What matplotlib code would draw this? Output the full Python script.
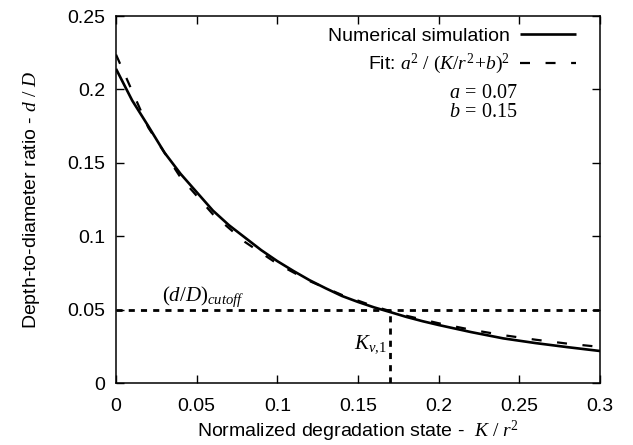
import numpy as np
import matplotlib
matplotlib.use('Agg')
import matplotlib.pyplot as plt

# Данные
K_sim = [0.00, 0.01, 0.02, 0.03, 0.04, 0.05, 0.06, 0.07, 0.08, 0.09, 0.10,
         0.11, 0.12, 0.13, 0.14, 0.15, 0.16, 0.17, 0.18, 0.19, 0.20,
         0.22, 0.24, 0.26, 0.28, 0.30]
dD_sim = [0.2140, 0.1925, 0.1750, 0.1570, 0.1425, 0.1300, 0.1175, 0.1075,
          0.0990, 0.0905, 0.0830, 0.0763, 0.0700, 0.0645, 0.0593, 0.0552,
          0.0515, 0.0483, 0.0450, 0.0421, 0.0395, 0.0347, 0.0304, 0.0272,
          0.0244, 0.0218]

K_fit = [0.00, 0.02, 0.04, 0.06, 0.08, 0.10, 0.12, 0.14, 0.16, 0.18,
         0.20, 0.22, 0.24, 0.26, 0.28, 0.30]
dD_fit = [0.2237, 0.1740, 0.1400, 0.1150, 0.0960, 0.0812, 0.0694, 0.0600,
          0.0522, 0.0458, 0.0407, 0.0363, 0.0326, 0.0295, 0.0268, 0.0246]

cutoff_dD = 0.05
K_v1 = 0.17

x_ticks = [0, 0.05, 0.1, 0.15, 0.2, 0.25, 0.3]
x_ticklabels = ['0', '0.05', '0.1', '0.15', '0.2', '0.25', '0.3']
y_ticks = [0, 0.05, 0.1, 0.15, 0.2, 0.25]
y_ticklabels = ['0', '0.05', '0.1', '0.15', '0.2', '0.25']

plt.rcParams['font.family'] = ['Liberation Sans', 'DejaVu Sans']
plt.rcParams['mathtext.fontset'] = 'custom'
plt.rcParams['mathtext.rm'] = 'Liberation Serif'
plt.rcParams['mathtext.it'] = 'Liberation Serif:italic'
plt.rcParams['mathtext.bf'] = 'Liberation Serif:bold'

fig = plt.figure(figsize=(6.33, 4.45), dpi=100)
ax = fig.add_axes([0.1833, 0.1393, 0.7647, 0.8247])

ax.plot(K_sim, dD_sim, color='black', lw=1.9, solid_capstyle='butt',
        label='Numerical simulation')
ax.plot(K_fit, dD_fit, color='black', lw=1.6, dashes=(4.5, 7),
        label=r'Fit: $a^2\ /\ (K/r^2\!+\!b)^2$')

# линии отсечки
ax.plot([0, 0.3], [cutoff_dD, cutoff_dD], color='black', lw=2.0,
        dashes=(2.2, 2.2))
ax.plot([K_v1, K_v1], [0, cutoff_dD], color='black', lw=2.0,
        dashes=(2.2, 2.2))

ax.text(0.054, 0.0557, r'$(d/D)_{cutoff}$', fontsize=15, ha='center',
        va='baseline')
ax.text(0.168, 0.0238, r'$K_{v{,}1}$', fontsize=15, ha='right',
        va='baseline')
ax.text(0.249, 0.198, r'$a\,=\,0.07$', fontsize=14.5, ha='right',
        va='center')
ax.text(0.249, 0.185, r'$b\,=\,0.15$', fontsize=14.5, ha='right',
        va='center')

leg = ax.legend(loc='upper right', frameon=False, markerfirst=False,
                fontsize=14, handlelength=2.9, handletextpad=0.5,
                labelspacing=0.35, borderaxespad=0.2,
                bbox_to_anchor=(0.975, 1.0))

ax.set_xlim(0, 0.3)
ax.set_ylim(0, 0.25)
ax.set_xticks(x_ticks)
ax.set_xticklabels(x_ticklabels)
ax.set_yticks(y_ticks)
ax.set_yticklabels(y_ticklabels)
ax.tick_params(direction='in', length=6, width=1, top=True, right=True,
               labelsize=14)
ax.tick_params(axis='x', pad=10.5)
ax.tick_params(axis='y', pad=8)
for s in ax.spines.values():
    s.set_linewidth(1.1)

ax.set_xlabel(r'Normalized degradation state -  $K\ /\ r^2$', fontsize=14,
              labelpad=3)
ax.set_ylabel(r'Depth-to-diameter ratio - $d\ /\ D$', fontsize=14,
              labelpad=18)

fig.savefig('out.png', dpi=100)
